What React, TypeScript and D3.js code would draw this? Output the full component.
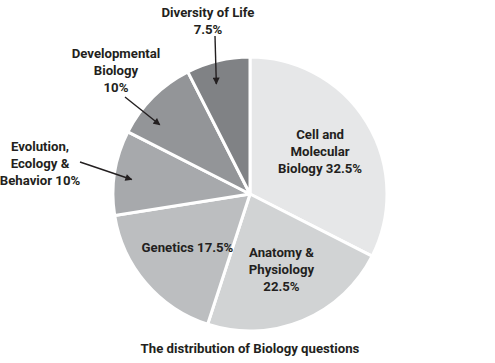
import React from 'react';
import * as d3 from 'd3';

// slices clockwise from 12 o'clock
const categories = [
  'Cell and Molecular Biology',
  'Anatomy & Physiology',
  'Genetics',
  'Evolution, Ecology & Behavior',
  'Developmental Biology',
  'Diversity of Life',
];
const shares = [32.5, 22.5, 17.5, 10, 10, 7.5];
const fills = ['#e6e7e8', '#d1d3d4', '#bcbec0', '#a7a9ac', '#939598', '#808285'];

// how each label is written (lines)
const labelLines = [
  ['Cell and', 'Molecular', 'Biology 32.5%'],
  ['Anatomy &', 'Physiology', '22.5%'],
  ['Genetics 17.5%'],
  ['Evolution,', 'Ecology &', 'Behavior 10%'],
  ['Developmental', 'Biology', '10%'],
  ['Diversity of Life', '7.5%'],
];

const caption = 'The distribution of Biology questions';

const W = 495;
const H = 363;
const cx = 250;
const cy = 194;
const R = 137;
const lineH = 17;
const fs = 13.2;

// callouts for the narrow slices: text anchor + arrow tail, tip angle shift (deg) and tip radius
const callouts: Record<number, { tx: number; ty: number; x0: number; y0: number; shift: number; rr: number }> = {
  3: { tx: 40, ty: 151, x0: 80, y0: 162, shift: -2, rr: 0.87 },
  4: { tx: 116, ty: 58, x0: 125, y0: 97, shift: -7.5, rr: 0.83 },
  5: { tx: 208, ty: 17, x0: 215, y0: 36, shift: -3.5, rr: 0.84 },
};

const font = 'Roboto, "Open Sans", sans-serif';
const ink = '#231f20';

export default function App() {
  const pie = d3.pie<number>().sort(null).value((d) => d);
  const arcs = pie(shares);
  const arc = d3.arc<d3.PieArcDatum<number>>().innerRadius(0).outerRadius(R);
  const labelArc = d3.arc<d3.PieArcDatum<number>>().innerRadius(R * 0.6).outerRadius(R * 0.6);

  const polar = (a: number, r: number): [number, number] => [Math.sin(a) * r, -Math.cos(a) * r];

  return (
    <svg width={W} height={H} style={{ position: 'absolute', left: 0, top: 0, background: '#fff' }}>
      <defs>
        <marker id="ah" viewBox="0 0 10 10" refX="9" refY="5" markerWidth="8" markerHeight="7" orient="auto" markerUnits="userSpaceOnUse">
          <path d="M0,0 L10,5 L0,10 z" fill={ink} />
        </marker>
      </defs>
      <g transform={`translate(${cx},${cy})`}>
        {arcs.map((a, i) => (
          <path key={categories[i]} d={arc(a) ?? ''} fill={fills[i]} stroke="#fff" strokeWidth={3} strokeLinejoin="round" />
        ))}
      </g>
      {arcs.map((a, i) => {
        const c = callouts[i];
        if (c) {
          const mid = (a.startAngle + a.endAngle) / 2 + (c.shift * Math.PI) / 180;
          const [px, py] = polar(mid, R * c.rr);
          return (
            <g key={categories[i]}>
              {labelLines[i].map((t, j) => (
                <text key={j} x={c.tx} y={c.ty + j * lineH} textAnchor="middle" fontFamily={font} fontWeight={700} fontSize={fs} fill={ink}>
                  {t}
                </text>
              ))}
              <line x1={c.x0} y1={c.y0} x2={cx + px} y2={cy + py} stroke={ink} strokeWidth={1.4} markerEnd="url(#ah)" />
            </g>
          );
        }
        const [lx, ly] = labelArc.centroid(a);
        const n = labelLines[i].length;
        return (
          <g key={categories[i]}>
            {labelLines[i].map((t, j) => (
              <text
                key={j}
                x={cx + lx}
                y={cy + ly + (j - (n - 1) / 2) * lineH + 4.5}
                textAnchor="middle"
                fontFamily={font}
                fontWeight={700}
                fontSize={fs}
                fill={ink}
              >
                {t}
              </text>
            ))}
          </g>
        );
      })}
      <text x={cx} y={353} textAnchor="middle" fontFamily={font} fontWeight={700} fontSize={fs} fill={ink}>
        {caption}
      </text>
    </svg>
  );
}
